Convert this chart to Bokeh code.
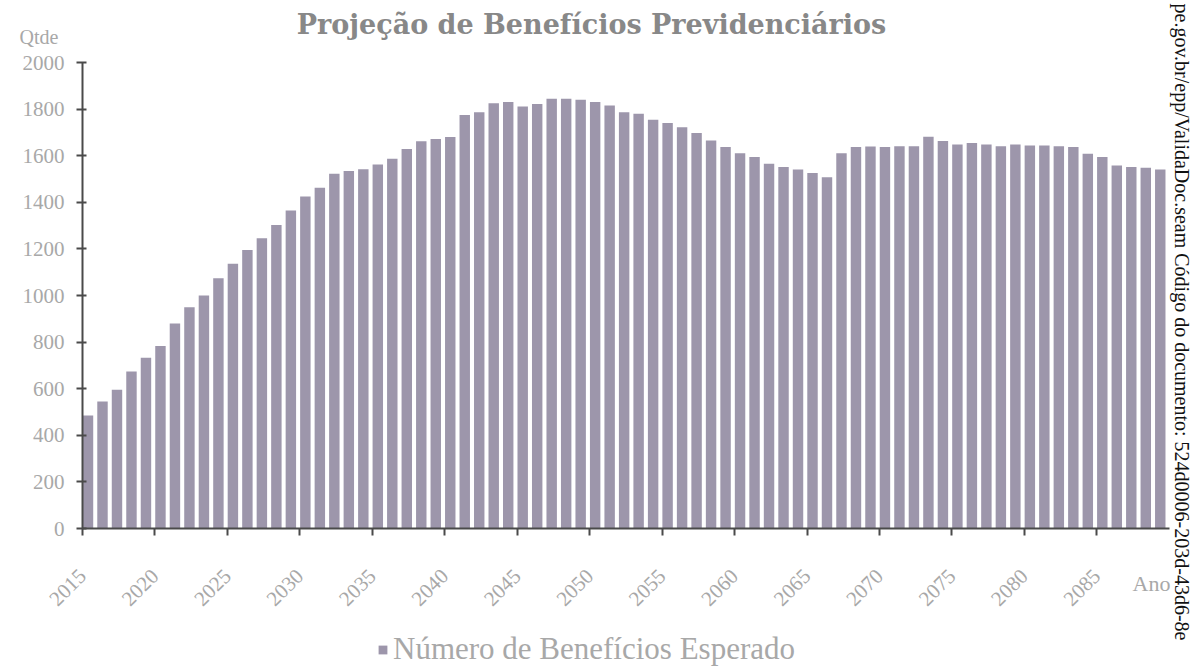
import math
from bokeh.plotting import figure
from bokeh.models import (Range1d, FixedTicker, Label, Legend, LegendItem,
                          ColumnDataSource)
from bokeh.transform import dodge
from bokeh.embed import file_html
from bokeh.resources import INLINE

# ---- data ----
years = list(range(2015, 2090))
beneficios = [485, 545, 595, 674, 733, 783, 880, 950, 1000, 1074,
              1136, 1195, 1246, 1303, 1365, 1425, 1462, 1522, 1534, 1542,
              1562, 1587, 1629, 1662, 1672, 1680, 1775, 1787, 1825, 1830,
              1811, 1822, 1844, 1844, 1840, 1830, 1815, 1787, 1780, 1754,
              1740, 1722, 1697, 1665, 1637, 1611, 1594, 1565, 1552, 1541,
              1526, 1508, 1611, 1637, 1639, 1637, 1641, 1641, 1681, 1663,
              1648, 1654, 1648, 1641, 1648, 1644, 1644, 1641, 1637, 1608,
              1594, 1558, 1551, 1548, 1541]
x_tick_years = list(range(2015, 2090, 5))
y_ticks = list(range(0, 2001, 200))
x_axis_span = (2015, 2090)
y_axis_span = (0, 2000)

title_text = "Projeção de Benefícios Previdenciários"
series_name = "Número de Benefícios Esperado"
y_label = "Qtde"
x_label = "Ano"
watermark = "pe.gov.br/epp/ValidaDoc.seam Código do documento: 524d0006-203d-43d6-8e"

# ---- layout geometry (pixels) ----
W, H = 1194, 671
AX_LEFT_PX, AX_BOTTOM_PX = 82, 528      # where 2015 / 0 fall
PX_PER_YEAR = 14.49
PX_PER_UNIT = 0.233


def X(px):
    return x_axis_span[0] + (px - AX_LEFT_PX) / PX_PER_YEAR


def Y(py):
    return (AX_BOTTOM_PX - py) / PX_PER_UNIT


src = ColumnDataSource(dict(year=years, valor=beneficios))

SERIF = "Liberation Serif"
GRAY = "#a8a8a8"

p = figure(width=W, height=H, title=None,
           x_range=Range1d(X(0), X(W)), y_range=Range1d(Y(H), Y(0)),
           output_backend="svg", toolbar_location=None,
           min_border=0)
p.outline_line_color = None
p.background_fill_color = "white"
p.border_fill_color = "white"
p.xgrid.visible = False
p.ygrid.visible = False

r = p.vbar(x=dodge("year", 0.38), top="valor", bottom=0, width=0.72,
           source=src, fill_color="#9d96ab", line_color=None)

# axes drawn at fixed data locations inside the frame
p.xaxis.fixed_location = y_axis_span[0]
p.yaxis.fixed_location = x_axis_span[0]
p.xaxis.bounds = x_axis_span
p.yaxis.bounds = y_axis_span
p.xaxis.ticker = FixedTicker(ticks=x_tick_years)
p.xaxis.major_label_orientation = math.pi / 4
p.xaxis.minor_tick_line_color = None
p.xaxis.major_tick_in = 0
p.xaxis.major_tick_out = 7
p.xaxis.major_label_standoff = 37
p.yaxis.ticker = FixedTicker(ticks=y_ticks)
p.yaxis.minor_tick_line_color = None
p.yaxis.major_tick_in = 4
p.yaxis.major_tick_out = 6
p.yaxis.major_label_standoff = 12
for ax in (p.xaxis, p.yaxis):
    ax.axis_line_color = "#4a4a4a"
    ax.axis_line_width = 2
    ax.major_tick_line_color = "#4a4a4a"
    ax.major_tick_line_width = 2
    ax.major_label_text_font = SERIF
    ax.major_label_text_font_size = "21px"
    ax.major_label_text_color = GRAY

# texts
p.add_layout(Label(x=X(591), y=Y(24), text=title_text, text_align="center",
                   text_baseline="alphabetic",
                   text_font="DejaVu Serif", text_font_style="bold",
                   text_font_size="27px", text_color="#888888"))
p.add_layout(Label(x=X(19), y=Y(36), text=y_label, text_align="left",
                   text_baseline="alphabetic",
                   text_font=SERIF, text_font_size="20px", text_color=GRAY))
p.add_layout(Label(x=X(1132), y=Y(583), text=x_label, text_align="left",
                   text_baseline="alphabetic",
                   text_font=SERIF, text_font_size="22px", text_color=GRAY))
p.add_layout(Label(x=X(1181), y=Y(3), text=watermark, text_align="left",
                   text_baseline="middle", angle=-math.pi / 2,
                   text_font=SERIF, text_font_size="20px",
                   text_color="#111111"))

legend = Legend(items=[LegendItem(label=series_name, renderers=[r])],
                location=(377, 4), padding=0, margin=0,
                border_line_color=None, background_fill_alpha=0,
                glyph_width=11, glyph_height=11, label_standoff=5,
                label_text_font=SERIF, label_text_font_size="31px",
                label_text_color=GRAY)
p.add_layout(legend, "center")

open("out.html", "w").write(file_html(p, INLINE))
